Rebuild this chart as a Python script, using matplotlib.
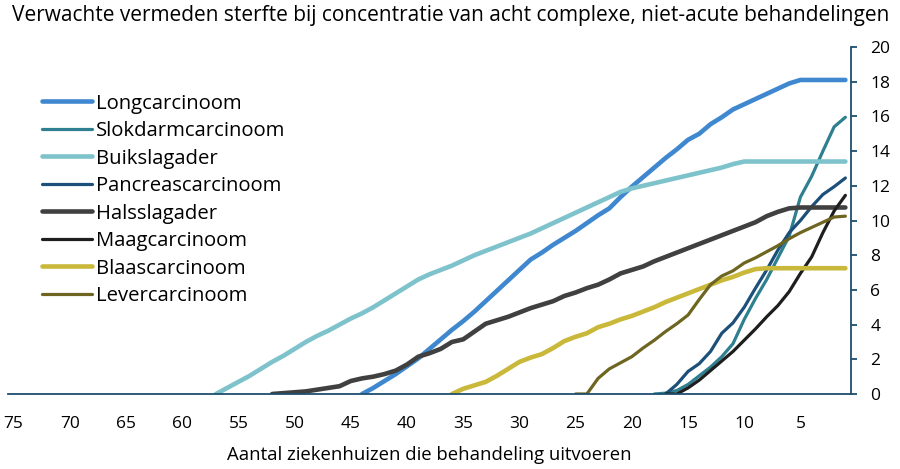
import numpy as np
import matplotlib
matplotlib.use("Agg")
import matplotlib.pyplot as plt

plt.rcParams['font.family'] = ['Open Sans', 'DejaVu Sans']

# categories: number of hospitals, 75 down to 1
hospitals = list(range(75, 0, -1))
xticks = list(range(75, 0, -5))

# values read per category (75 -> 1); None = no value yet
longcarcinoom = [None]*31 + [0, 0.35, 0.75, 1.15, 1.6, 2.05, 2.6, 3.15, 3.7, 4.2, 4.75,
                             5.35, 5.95, 6.55, 7.15, 7.75, 8.15, 8.6, 9.0, 9.4, 9.85,
                             10.3, 10.7, 11.35, 11.95, 12.5, 13.05, 13.6, 14.1, 14.65, 15.0,
                             15.55, 15.95, 16.4, 16.7, 17.0, 17.3, 17.6, 17.9, 18.1, 18.1,
                             18.1, 18.1, 18.1]
slokdarm = [None]*57 + [0, 0.05, 0.2, 0.55, 1.05, 1.55, 2.15, 2.9, 4.3, 5.5,
                        6.6, 7.85, 9.1, 11.35, 12.55, 14.0, 15.4, 15.95]
buikslagader = [None]*18 + [0, 0.35, 0.7, 1.05, 1.45, 1.85, 2.2, 2.6, 3.0, 3.35,
                            3.65, 4.0, 4.35, 4.65, 5.0, 5.4, 5.8, 6.2, 6.6, 6.9,
                            7.15, 7.4, 7.7, 8.0, 8.25, 8.5, 8.75, 9.0, 9.25, 9.55,
                            9.85, 10.15, 10.45, 10.75, 11.05, 11.35, 11.65, 11.85, 12.0, 12.15,
                            12.3, 12.45, 12.6, 12.75, 12.9, 13.05, 13.25, 13.4,
                            13.4, 13.4, 13.4, 13.4, 13.4, 13.4, 13.4, 13.4, 13.4]
pancreas = [None]*58 + [0, 0.55, 1.3, 1.75, 2.45, 3.5, 4.1, 5.0, 6.1, 7.15,
                        8.3, 9.3, 10.0, 10.8, 11.5, 11.95, 12.45]
halsslagader = [None]*23 + [0, 0.05, 0.1, 0.15, 0.25, 0.35, 0.45, 0.75, 0.9, 1.0,
                            1.15, 1.35, 1.7, 2.15, 2.35, 2.6, 3.0, 3.15, 3.6, 4.05,
                            4.25, 4.45, 4.7, 4.95, 5.15, 5.35, 5.65, 5.85, 6.1, 6.3,
                            6.6, 6.95, 7.15, 7.35, 7.65, 7.9, 8.15, 8.4, 8.65, 8.9,
                            9.15, 9.4, 9.65, 9.9, 10.25, 10.5, 10.7, 10.75,
                            10.75, 10.75, 10.75, 10.75]
maag = [None]*58 + [0, 0, 0.35, 0.8, 1.35, 1.9, 2.45, 3.1, 3.75, 4.45,
                    5.1, 5.9, 6.95, 7.9, 9.3, 10.55, 11.45]
blaas = [None]*39 + [0, 0.3, 0.5, 0.7, 1.05, 1.45, 1.85, 2.1, 2.3, 2.65,
                     3.05, 3.3, 3.5, 3.85, 4.05, 4.3, 4.5, 4.75, 5.0, 5.3,
                     5.55, 5.8, 6.05, 6.3, 6.55, 6.75, 7.0, 7.2,
                     7.25, 7.25, 7.25, 7.25, 7.25, 7.25, 7.25, 7.25]
lever = [None]*50 + [0, 0, 0.9, 1.45, 1.8, 2.15, 2.65, 3.1, 3.6, 4.05,
                     4.55, 5.45, 6.3, 6.8, 7.1, 7.55, 7.85, 8.2, 8.55, 8.95,
                     9.3, 9.6, 9.9, 10.2, 10.25]

names = ['Longcarcinoom', 'Slokdarmcarcinoom', 'Buikslagader', 'Pancreascarcinoom',
         'Halsslagader', 'Maagcarcinoom', 'Blaascarcinoom', 'Levercarcinoom']
series = [longcarcinoom, slokdarm, buikslagader, pancreas, halsslagader, maag, blaas, lever]
colors = ['#3f88d0', '#2e8090', '#7ec3cb', '#1c4f7a', '#404040', '#1e1e1e', '#c9b83a', '#6e6520']
widths = [3.3, 2.3, 3.3, 2.3, 3.3, 2.3, 3.3, 2.3]

axcol = '#1f4e6e'

fig = plt.figure(figsize=(9, 4.69), dpi=100)
ax = fig.add_axes([8/900, 1-394/469, 843/900, 347/469])

for name, s, c, w in zip(names, series, colors, widths):
    ax.plot(hospitals, np.array(s, dtype=float), color=c, lw=w, label=name,
            solid_capstyle='round', solid_joinstyle='round')

ax.set_xlim(75.5, 0.5)
ax.set_ylim(0, 20)
ax.set_xticks(xticks)
ax.set_yticks(range(0, 21, 2))
ax.yaxis.tick_right()
for sp in ['left', 'top']:
    ax.spines[sp].set_visible(False)
ax.spines['right'].set_color(axcol)
ax.spines['bottom'].set_color(axcol)
ax.spines['right'].set_linewidth(1.3)
ax.spines['bottom'].set_linewidth(1.3)
ax.tick_params(axis='y', direction='out', length=4, width=1.3, color=axcol,
               pad=10, labelsize=12.5)
ax.tick_params(axis='x', length=0, pad=15.5, labelsize=12.5)

ax.set_xlabel('Aantal ziekenhuizen die behandeling uitvoeren', fontsize=13.3, labelpad=10.5)
fig.text(12/900, 1-21/469, 'Verwachte vermeden sterfte bij concentratie van acht complexe, niet-acute behandelingen',
         fontsize=15, va='baseline', ha='left')

ax.legend(loc='upper left', bbox_to_anchor=(42/900, 1-93.5/469), bbox_transform=fig.transFigure,
          frameon=False, fontsize=14.6, handlelength=2.45, handletextpad=0.2,
          labelspacing=0.37, borderpad=0, borderaxespad=0)

fig.savefig('out.png', dpi=100)
